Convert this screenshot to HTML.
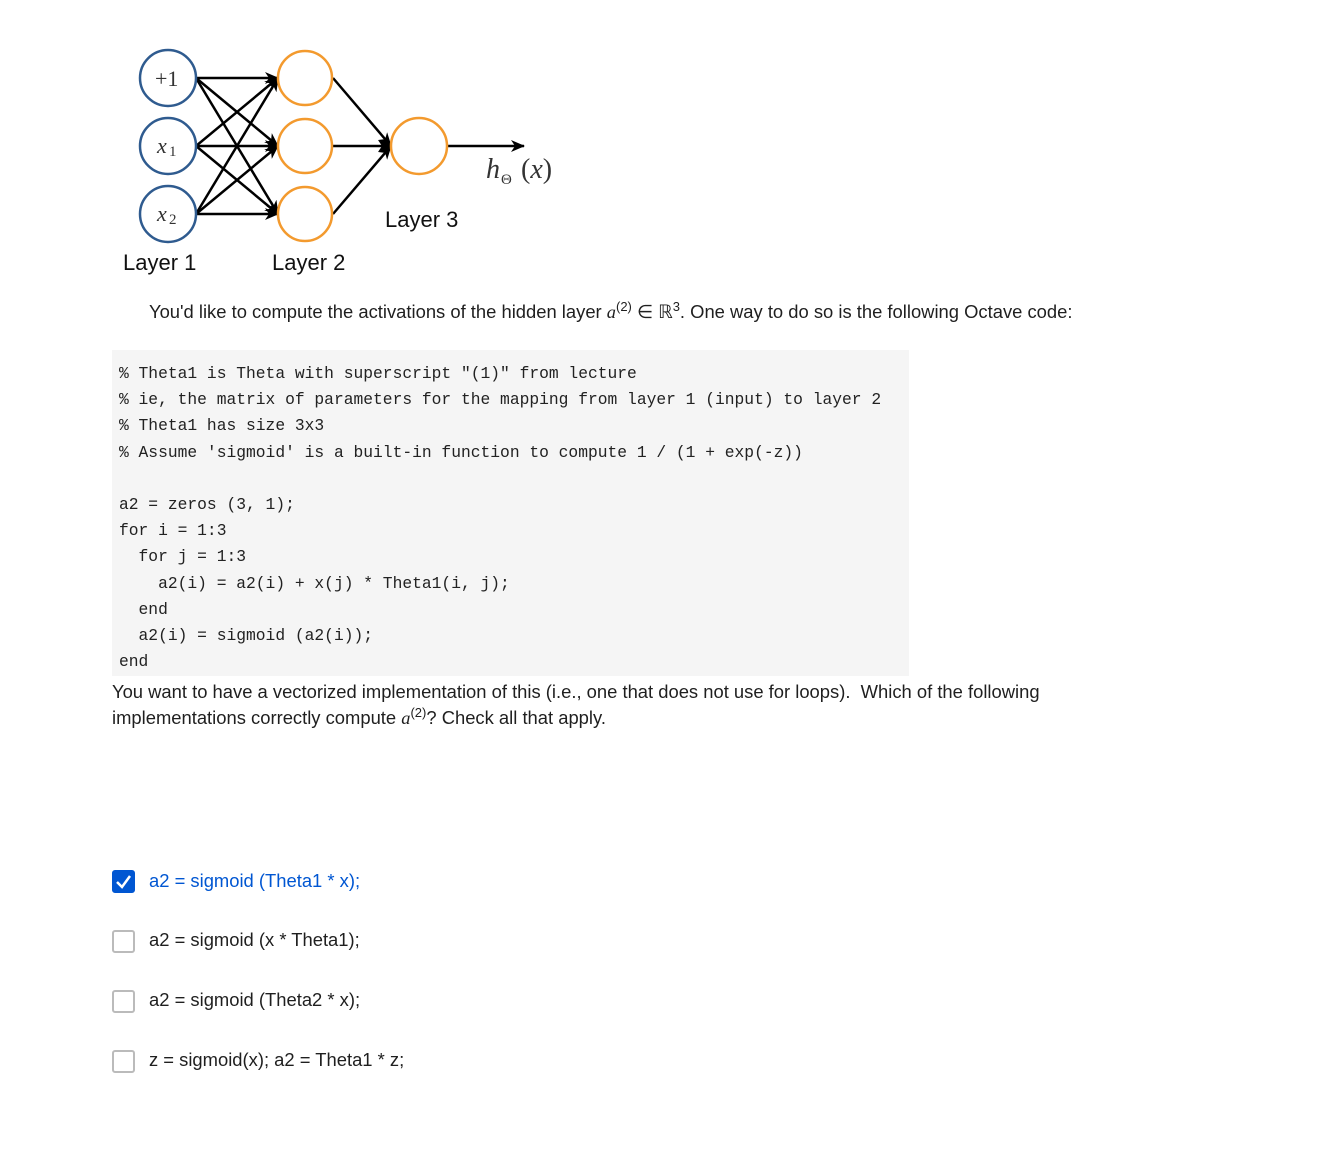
<!DOCTYPE html>
<html><head><meta charset="utf-8"><style>
body{margin:0;width:1339px;height:1157px;background:#fff;font-family:"Liberation Sans",sans-serif;color:#1f1f1f;position:relative;overflow:hidden}
.t{position:absolute;font-size:18.4px;white-space:nowrap}
pre{position:absolute;left:112px;top:350px;width:790px;height:307px;margin:0;padding:11px 0 8px 7px;background:#f5f5f5;font-family:"Liberation Mono",monospace;font-size:16.3px;line-height:26.2px;color:#222}
.cb{position:absolute;left:112px;width:19px;height:19px;border:2px solid #bbb;border-radius:3px;background:#fff}
i{font-family:"Liberation Serif",serif}
</style></head><body>
<svg width="600" height="290" style="position:absolute;left:0;top:0">
<defs><marker id="a" markerWidth="14" markerHeight="12" refX="13" refY="6" orient="auto" markerUnits="userSpaceOnUse"><path d="M0,0 L14,6 L0,12 L4,6 Z" fill="#000"/></marker></defs>
<g stroke="#000" stroke-width="2.5" fill="none" marker-end="url(#a)">
<line x1="196" y1="78" x2="278" y2="78"/><line x1="196" y1="78" x2="278" y2="146"/><line x1="196" y1="78" x2="278" y2="214"/>
<line x1="196" y1="146" x2="278" y2="78"/><line x1="196" y1="146" x2="278" y2="146"/><line x1="196" y1="146" x2="278" y2="214"/>
<line x1="196" y1="214" x2="278" y2="78"/><line x1="196" y1="214" x2="278" y2="146"/><line x1="196" y1="214" x2="278" y2="214"/>
<line x1="333" y1="78" x2="391" y2="146"/><line x1="333" y1="146" x2="391" y2="146"/><line x1="333" y1="214" x2="391" y2="146"/>
<line x1="447" y1="146" x2="524" y2="146"/>
</g>
<g fill="#fff" stroke="#2f5b8f" stroke-width="2.5"><circle cx="168" cy="78" r="28"/><circle cx="168" cy="146" r="28"/><circle cx="168" cy="214" r="28"/></g>
<g fill="#fff" stroke="#f39a2e" stroke-width="2.5"><circle cx="305" cy="78" r="27"/><circle cx="305" cy="146" r="27"/><circle cx="305" cy="214" r="27"/><circle cx="419" cy="146" r="28"/></g>
<g font-family="Liberation Serif,serif" font-size="22" fill="#333">
<text x="155" y="86">+1</text><text x="157" y="153" font-style="italic">x</text><text x="169" y="156" font-size="15">1</text>
<text x="157" y="221" font-style="italic">x</text><text x="169" y="224" font-size="15">2</text>
<text x="486" y="178" font-style="italic" font-size="28">h</text><text x="501" y="184" font-size="15">Θ</text><text x="521" y="178" font-size="28">(<tspan font-style="italic">x</tspan>)</text>
</g>
<g font-family="Liberation Sans,sans-serif" font-size="22" fill="#111">
<text x="123" y="270">Layer 1</text><text x="272" y="270">Layer 2</text><text x="385" y="227">Layer 3</text></g>
</svg>
<div class="t" style="left:149px;top:299px">You'd like to compute the activations of the hidden layer <i>a</i><sup style="font-size:13px">(2)</sup> ∈ ℝ<sup style="font-size:13px">3</sup>. One way to do so is the following Octave code:</div>
<pre>% Theta1 is Theta with superscript "(1)" from lecture
% ie, the matrix of parameters for the mapping from layer 1 (input) to layer 2
% Theta1 has size 3x3
% Assume 'sigmoid' is a built-in function to compute 1 / (1 + exp(-z))

a2 = zeros (3, 1);
for i = 1:3
  for j = 1:3
    a2(i) = a2(i) + x(j) * Theta1(i, j);
  end
  a2(i) = sigmoid (a2(i));
end</pre>
<div class="t" style="left:112px;top:679px;line-height:26px">You want to have a vectorized implementation of this (i.e., one that does not use for loops).&nbsp; Which of the following<br>implementations correctly compute <i>a</i><sup style="font-size:13px;line-height:0">(2)</sup>? Check all that apply.</div>
<div class="cb" style="top:870px;background:#0056d2;border-color:#0056d2"><svg width="19" height="19"><path d="M3,10 L8,15 L16,4" stroke="#fff" stroke-width="2.5" fill="none"/></svg></div>
<div class="t" style="left:149px;top:870px;color:#0056d2">a2 = sigmoid (Theta1 * x);</div>
<div class="cb" style="top:930px"></div><div class="t" style="left:149px;top:929px">a2 = sigmoid (x * Theta1);</div>
<div class="cb" style="top:990px"></div><div class="t" style="left:149px;top:989px">a2 = sigmoid (Theta2 * x);</div>
<div class="cb" style="top:1050px"></div><div class="t" style="left:149px;top:1049px">z = sigmoid(x); a2 = Theta1 * z;</div>
</body></html>
